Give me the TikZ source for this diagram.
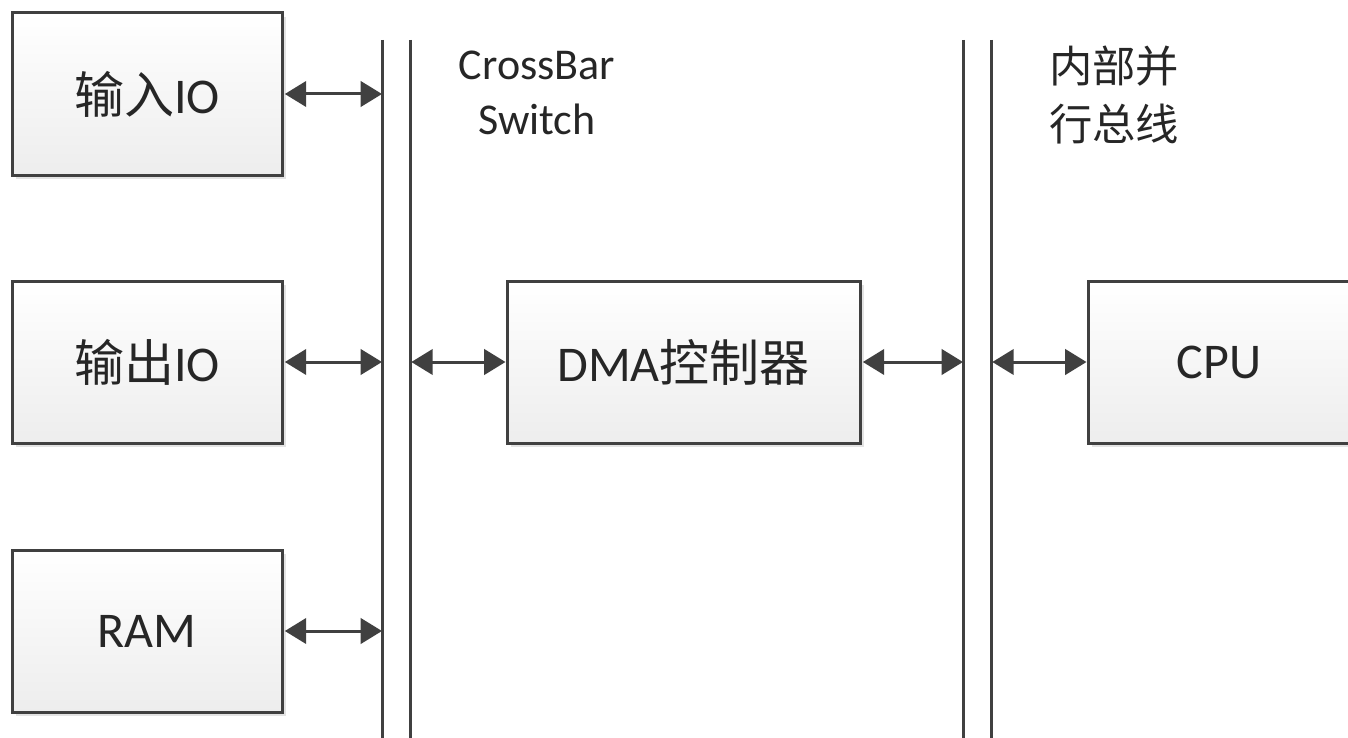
\documentclass[tikz,border=0pt]{standalone}
\usepackage{fontspec}
\setmainfont{Carlito}
\newfontfamily\cjk{Noto Sans CJK SC}
\usetikzlibrary{arrows.meta,shadows}
\definecolor{edge}{HTML}{404040}
\definecolor{txt}{HTML}{262626}
\tikzset{
  box/.style={draw=edge, line width=2.25pt, rectangle, inner sep=0pt,
    minimum width=202.5pt, minimum height=121.5pt,
    top color=white, bottom color=black!7,
    general shadow={fill=black!11, shadow xshift=3.2pt, shadow yshift=-3.2pt},
    text=txt, font=\fontsize{37.5}{45}\selectfont},
  bus/.style={draw=edge, line width=2.25pt},
  link/.style={draw=edge, line width=2.25pt, {Triangle[length=16pt,width=19pt]}-{Triangle[length=16pt,width=19pt]}, shorten <=1pt, shorten >=0pt},
  lbl/.style={text=txt, align=center, inner sep=0pt}
}
\begin{document}
\begin{tikzpicture}[x=0.75pt,y=-0.75pt]
\clip (0,0) rectangle (1348,738);
\useasboundingbox (0,0) rectangle (1348,738);
% bus lines
\coordinate (b1t) at (382,40); \coordinate (b1b) at (382,745);
\coordinate (b2t) at (410,40); \coordinate (b2b) at (410,745);
\coordinate (b3t) at (963,40); \coordinate (b3b) at (963,745);
\coordinate (b4t) at (991,40); \coordinate (b4b) at (991,745);
\draw[bus] (b1t) -- (b1b);
\draw[bus] (b2t) -- (b2b);
\draw[bus] (b3t) -- (b3b);
\draw[bus] (b4t) -- (b4b);
% boxes
\node[box] (in)  at (147,94)  {{\cjk 输入}IO};
\node[box] (out) at (147,362) {{\cjk 输出}IO};
\node[box] (ram) at (147,631) {RAM};
\node[box, minimum width=264.75pt] (dma) at (683.5,362) {DMA{\cjk 控制器}};
\node[box, minimum width=300pt, text width=0pt] (cpu) at (1288,362) {};
\node[text=txt, font=\fontsize{37.5}{45}\selectfont, inner sep=0pt] (cputxt) at (1219,362) {CPU};
% labels
\node[lbl, font=\fontsize{33}{41.5}\selectfont] (xbar) at (537,93) {CrossBar\\Switch};
\node[lbl, font=\cjk\fontsize{32.5}{43.5}\selectfont] (ibus) at (1114,95) {内部并\\行总线};
% connectors
\draw[link] (in.east)  -- (in.east -| b1t);
\draw[link] (out.east) -- (out.east -| b1t);
\draw[link] (ram.east) -- (ram.east -| b1t);
\draw[link] (dma.west -| b2t) -- (dma.west);
\draw[link] (dma.east) -- (dma.east -| b3t);
\draw[link] (cpu.west -| b4t) -- (cpu.west);
\end{tikzpicture}
\end{document}
